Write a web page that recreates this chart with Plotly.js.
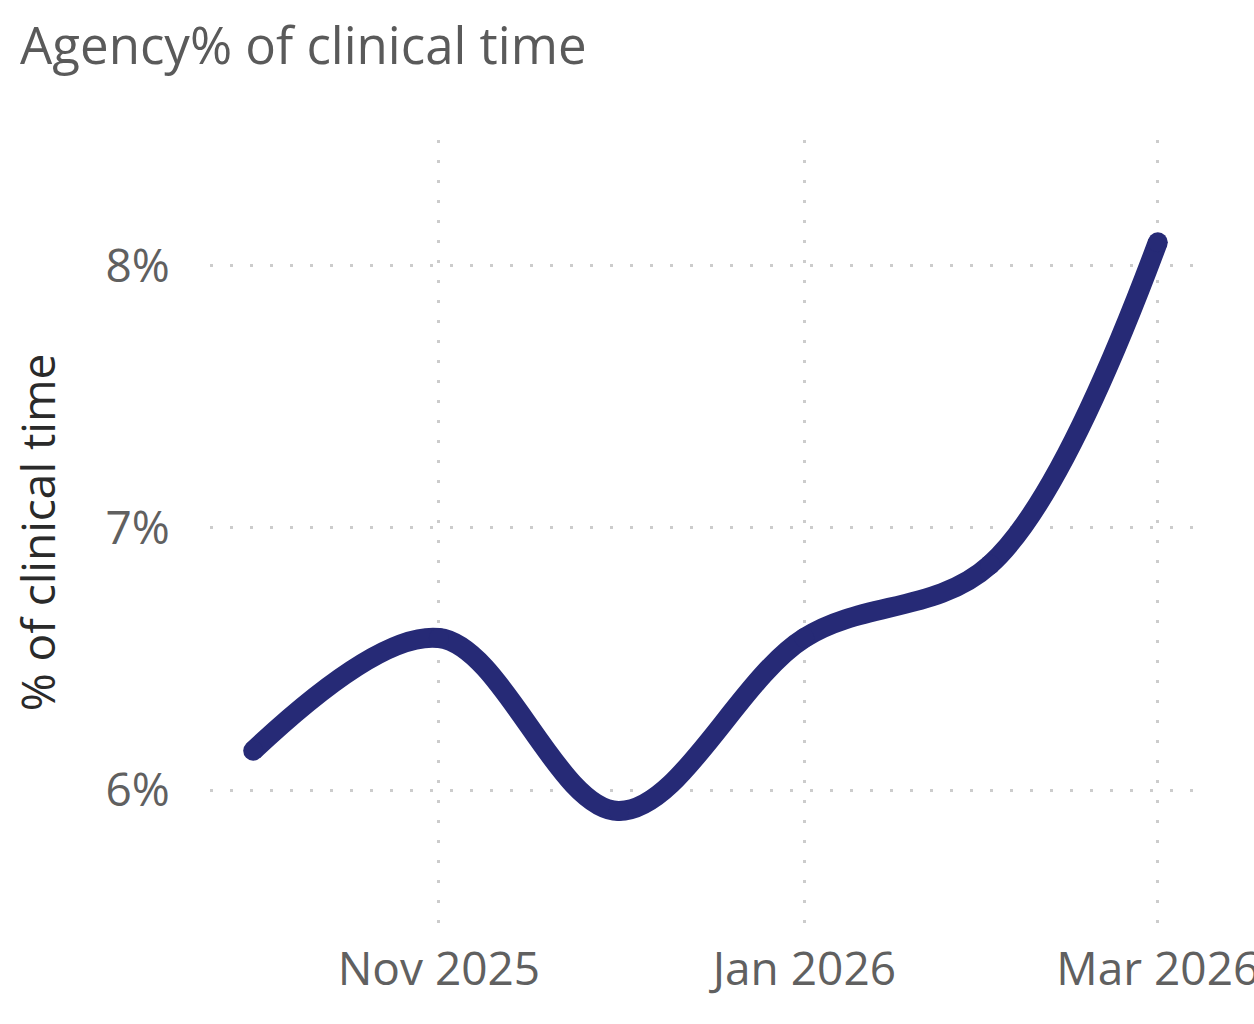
<!DOCTYPE html>
<html>
<head>
<meta charset="utf-8">
<script src="https://cdn.plot.ly/plotly-3.0.1.min.js"></script>
<style>html,body{margin:0;padding:0;background:#fff;overflow:hidden;}#chart{width:1254px;height:1024px;}</style>
</head>
<body>
<div id="chart"></div>
<script>
const months = ["2025-10-01","2025-11-01","2025-12-01","2026-01-01","2026-02-01","2026-03-01"];
const agencyPct = [0.0615, 0.0658, 0.0592, 0.0658, 0.0686, 0.0809];
const yTicks = [0.06, 0.07, 0.08];
const yTickLabels = ["6%","7%","8%"];
const xTicks = ["2025-11-01","2026-01-01","2026-03-01"];
const xTickLabels = ["Nov 2025","Jan 2026","Mar 2026"];

const font = "'Open Sans', 'Noto Sans', sans-serif";
const lineColor = "#262a76";

Plotly.newPlot("chart", [{
  x: months, y: agencyPct, type: "scatter", mode: "lines+markers",
  line: {color: lineColor, width: 20, shape: "spline", smoothing: 1},
  marker: {color: lineColor, size: 20},
  hoverinfo: "skip"
}], {
  width: 1254, height: 1024,
  margin: {l: 210, r: 59, t: 140, b: 99},
  paper_bgcolor: "#fff", plot_bgcolor: "#fff",
  showlegend: false,
  title: {text: "Agency% of clinical time", x: 0.016, xanchor: "left", y: 0.955, yanchor: "middle",
          font: {family: font, size: 51, color: "#5a5a5a"}},
  xaxis: {
    type: "date", range: ["2025-09-23 19:00", "2026-03-07 05:00"],
    tickvals: xTicks, ticktext: xTickLabels,
    showgrid: true, gridcolor: "#cccccc", gridwidth: 3, griddash: "3px,17px",
    zeroline: false, showline: false,
    ticks: "outside", ticklen: 4, tickcolor: "rgba(0,0,0,0)",
    ticklabeloverflow: "allow",
    tickfont: {family: font, size: 46, color: "#606060"}
  },
  yaxis: {
    range: [0.05485, 0.0848],
    tickvals: yTicks, ticktext: yTickLabels,
    showgrid: true, gridcolor: "#cccccc", gridwidth: 3, griddash: "3px,17px",
    zeroline: false, showline: false,
    ticks: "outside", ticklen: 30, tickcolor: "rgba(0,0,0,0)",
    tickfont: {family: font, size: 46, color: "#606060"},
    title: {text: "% of clinical time", standoff: 35, font: {family: font, size: 46, color: "#2a2a2a"}}
  }
}, {staticPlot: true});
</script>
</body>
</html>
